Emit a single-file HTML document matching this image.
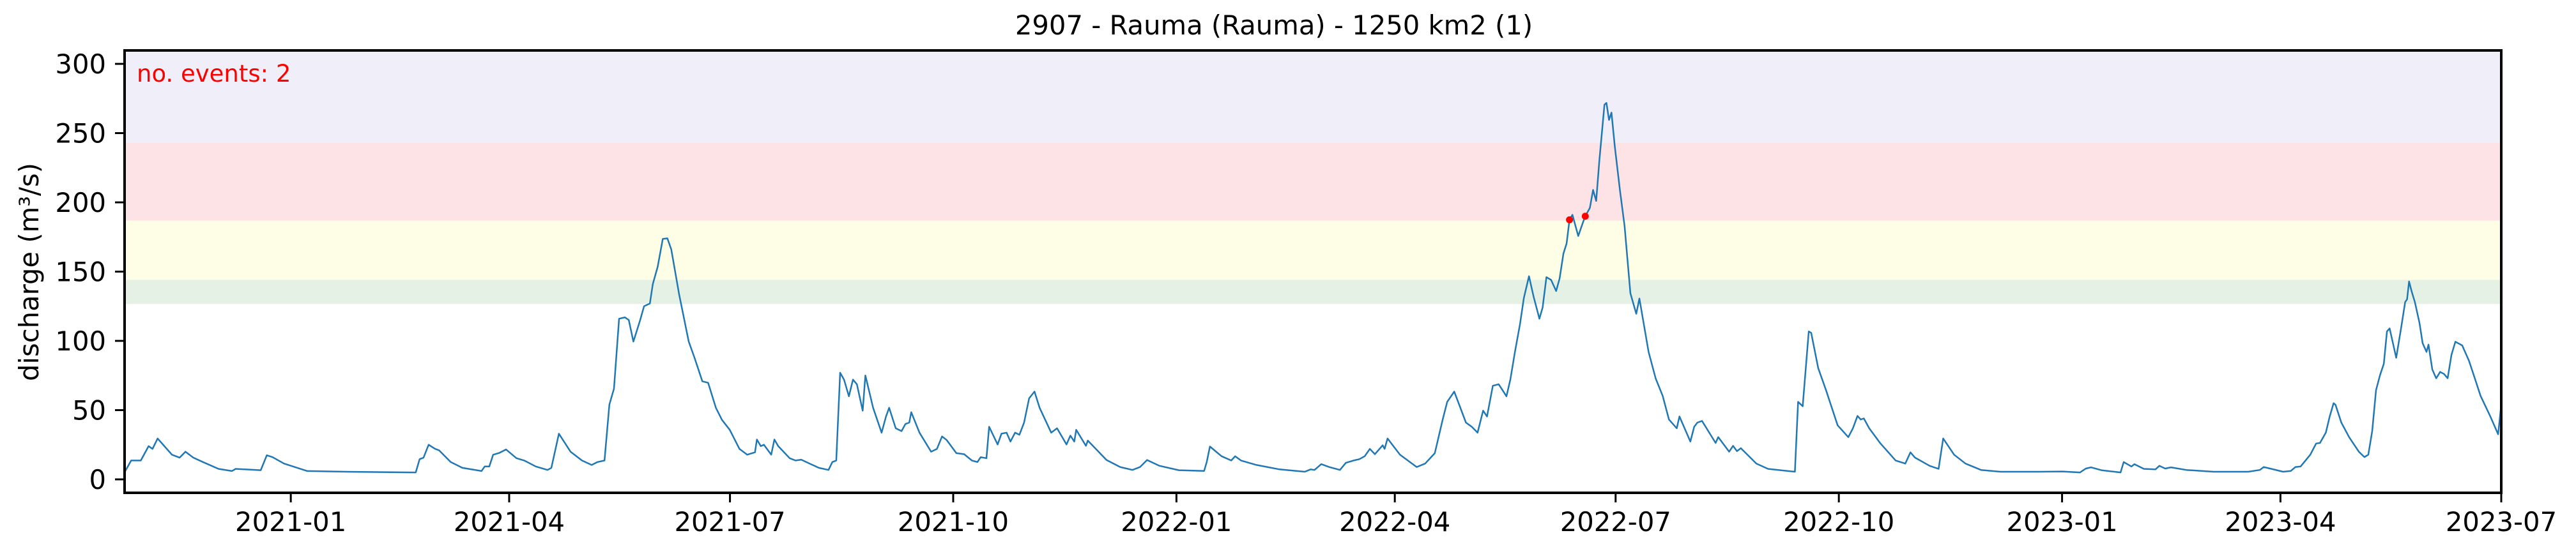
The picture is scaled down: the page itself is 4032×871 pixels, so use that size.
<!DOCTYPE html>
<html>
<head>
<meta charset="utf-8">
<style>
  html,body{margin:0;padding:0;background:#fff;}
  svg{display:block;}
  text{font-family:"DejaVu Sans","Liberation Sans",sans-serif;}
</style>
</head>
<body>
<svg id="chart" width="4032" height="871" viewBox="0 0 4032 871" xmlns="http://www.w3.org/2000/svg">
  <rect x="0" y="0" width="4032" height="871" fill="#ffffff"/>
  <g id="bands"></g>
  <g id="series"></g>
  <g id="events"></g>
  <rect x="195" y="79" width="3720" height="693" fill="none" stroke="#000" stroke-width="4"/>
  <g id="xaxis"></g>
  <g id="yaxis"></g>
  <text x="1994" y="54" font-size="41.7" text-anchor="middle" fill="#000">2907 - Rauma (Rauma) - 1250 km2 (1)</text>
  <text x="0" y="0" font-size="41.7" text-anchor="middle" fill="#000" transform="translate(60,426) rotate(-90)">discharge (m³/s)</text>
  <text x="214" y="128" font-size="37" fill="#ff0000">no. events: 2</text>
</svg>
<script>
// days since 2021-01-01
const days = [-68.2,-65.8,-61.8,-58.6,-57,-54.9,-49,-45.8,-43.4,-40.2,-36.2,-29.8,-24.3,-22.7,-12.4,-9.9,-7.5,-2.8,6.8,22.8,51.5,53.1,54.7,56.8,59.5,61.1,65.9,70.7,78.6,79.9,81.8,83.4,85.8,88.7,93,96.2,101,105.8,107.4,110.5,115.3,120,124,126.4,129.3,131.3,133.2,135.3,137.7,139.3,141.2,144,145.6,148,149.2,151.2,153.3,155.2,156.8,160,164,166.4,169.6,172,175.2,177.7,180.9,184.9,188.1,191.3,192.1,193.7,195,198,199.3,200.9,205.6,208,210.4,217.6,221.6,223.2,224.8,226.4,228,230,231.7,233.3,235.7,236.8,240,243.5,245.3,246.6,249.3,251.7,253.3,254.9,255.7,259.1,263.9,266.3,268.4,270.3,274.3,277.5,280.7,283,284.3,286.7,287.8,291.3,292.9,295,296.6,298.5,300.3,302.2,304.3,306.5,308.6,313.4,315.8,319.7,321.3,322.9,323.7,327.7,328.5,336.2,341.8,346.9,350,352.9,358,366,376.4,377.5,378.8,383.6,387.6,389.2,391.6,398,407.5,417.9,420.3,421.9,424.7,427.9,432.4,434.8,438,440.4,442.6,444.7,446.8,450,450.8,452,457.1,464,467.5,471.5,474.7,476.6,479.5,484.3,486.7,489.1,491.4,493,495.4,497.8,499.4,501,502.6,504.5,506.6,508.2,510.3,512.2,514.6,515.9,517.5,519.4,521.5,522.9,524.5,525.8,527,528.2,530.6,532.5,533.5,535.4,536.7,538,539.3,541.4,542.2,543.3,544.3,545.7,547.8,549.7,552.1,554.5,555.8,559.6,562.5,565.4,568,571.2,572.3,576.8,578.4,579.7,581.6,587.2,588.3,592.8,594.4,596,597.6,604,608.8,619.9,621.2,623.1,625.6,626.6,629.5,632.7,637.5,641.9,643.8,645.7,647,648.3,650.5,655,661.4,665.4,667.5,669.4,675.4,679.1,681,685.5,690.2,696.6,704.6,720.6,730.2,737.4,739.8,741.9,746.2,754.1,755.4,758.6,759.8,763.7,768.5,770.1,772.5,774.9,781.2,792.4,806.7,811.5,813.1,821.1,824.3,826.2,828.3,832.3,834.7,836.3,838.7,840.3,841.9,842.7,845.1,848.3,852.3,854.6,856.2,857.8,859.4,861,862.6,863.9,865,867.7,869.8,871.4,872.2,873,874.1,875.4,877.3,878.6,880.2,881,882.6,884.2,885.8,887.4,888.9,890.5,892.1,894.9,897.7,900.1,902.5,906.5,909.7,911];
const discharge = [6,13.6,13.6,24,22,29.5,17.8,15.7,20,15.7,12.5,7.6,6,7.6,6.6,17.4,16,11.4,6,5.5,5,14.6,15.7,25,22,21,12.5,8.3,6,9.3,9.3,17.8,19,21.6,15.3,13.6,9.3,6.8,8.3,33,20,13.6,10.4,12.5,13.6,54,65.5,116,117,115,99.5,115,125,127,141,153.5,173.6,174,166,134,99.5,87.8,70.8,69.7,51.7,43,35.8,22,17.8,19.5,28.8,24,25,17.8,28.8,24,15.3,13.6,14.2,8.3,6.8,12.5,13.6,77,72,60,72,68.7,49.6,75,51.7,33.7,45.4,51.7,36.9,34.8,40,41,48.5,33.7,20,22,31,28.4,18.9,18.2,13.6,12.5,16,15.3,38,25.2,33,33.7,27.3,33.7,32.2,41,58.5,63.4,51.7,33.7,36.9,25.2,31.6,27.3,35.8,24.2,28,14,8.9,6.8,8.9,14,9.8,6.6,6.1,12.5,23.7,16.7,13.6,16.7,13.6,10.4,7.2,5.5,7.2,6.8,11,8.9,6.8,11.9,13.6,14.6,16.7,22,18.2,24.6,22,29.5,17.8,8.9,11.4,18.9,43,56,63.4,41,38,33.7,49.6,45.4,67.6,68.7,64.4,60,72,92,112,131,146.7,132,116,124,146,144,136,145,163,170.4,187.4,191,175.7,185.3,190,196,209,201,230,270.5,271.8,259.5,264.8,240,208.6,183,134.4,119.6,130.6,92,73,60.2,43.2,36.9,45.4,27.3,38,41,42.2,26.3,30.5,20,24.2,20.4,22.5,11.4,7.6,5.5,56,52.8,106.8,105.8,80.3,64.4,39,30.5,36.9,45.8,43.2,44,36.9,26.3,13.6,11.4,19.5,15.7,9.8,7.6,29.5,17.8,11.4,6.8,5.5,5.5,5.7,5,7.8,8.7,6.6,5,12.5,9.3,11,7.6,7.2,9.8,7.8,8.7,6.8,5.5,5.5,6.8,8.9,5.5,6.1,8.9,9.3,17.8,25.9,26.3,33.7,45.4,55,53.8,41,30.5,20,16.1,17.8,34.8,64.4,75,83.5,106.8,109,87.8,110,128,130,142.9,135.5,128,113,98.4,92,97.3,79.3,73,77.6,76.1,73,90,99.4,96.7,85.6,73,60.2,45.4,32.6,53.8];
const eventDays = [527, 533.5];
const eventValues = [187.4, 190];
const bandLows = [243, 186.8, 144, 126.6];
const bandHighs = [310, 243, 186.8, 144];
const bandColors = ['#f0eef8','#fde3e5','#fefee6','#e5f1e5'];
const xTickDays = [0, 90, 181, 273, 365, 455, 546, 638, 730, 820, 911];
const xTickLabels = ['2021-01','2021-04','2021-07','2021-10','2022-01','2022-04','2022-07','2022-10','2023-01','2023-04','2023-07'];
const yTickValues = [0, 50, 100, 150, 200, 250, 300];
const yTickLabels = ['0','50','100','150','200','250','300'];

const X0 = 195, X1 = 3915, Y0 = 79, Y1 = 772;
const dMin = -68.5, dMax = 911;
const vMin = -9.7, vMax = 309.7;
function xs(d){ return X0 + (d - dMin) / (dMax - dMin) * (X1 - X0); }
function ys(v){ return Y1 - (v - vMin) / (vMax - vMin) * (Y1 - Y0); }
const NS = 'http://www.w3.org/2000/svg';

const bands = document.getElementById('bands');
for (let i = 0; i < bandLows.length; i++) {
  const r = document.createElementNS(NS, 'rect');
  
  
  const top = Math.max(Y0, ys(bandHighs[i]));
  r.setAttribute('x', X0); r.setAttribute('width', X1 - X0);
  r.setAttribute('y', top); r.setAttribute('height', ys(bandLows[i]) - top);
  r.setAttribute('fill', bandColors[i]);
  bands.appendChild(r);
}

const series = document.getElementById('series');
let dstr = '';
for (let i = 0; i < days.length; i++) {
  dstr += (i ? 'L' : 'M') + xs(days[i]).toFixed(1) + ',' + ys(discharge[i]).toFixed(1);
}
const path = document.createElementNS(NS, 'path');


path.setAttribute('d', dstr);
path.setAttribute('fill', 'none');
path.setAttribute('stroke', '#1f77b4');
path.setAttribute('stroke-width', '2.5');
path.setAttribute('stroke-linejoin', 'round');
series.appendChild(path);

const events = document.getElementById('events');
for (let i = 0; i < eventDays.length; i++) {
  const c = document.createElementNS(NS, 'circle');
  
  
  c.setAttribute('cx', xs(eventDays[i])); c.setAttribute('cy', ys(eventValues[i]));
  c.setAttribute('r', 5.5); c.setAttribute('fill', '#ff0000');
  events.appendChild(c);
}

const xaxis = document.getElementById('xaxis');
for (let i = 0; i < xTickDays.length; i++) {
  const x = xs(xTickDays[i]);
  const l = document.createElementNS(NS, 'line');
  
  
  l.setAttribute('x1', x); l.setAttribute('x2', x); l.setAttribute('y1', Y1); l.setAttribute('y2', Y1 + 15);
  l.setAttribute('stroke', '#000'); l.setAttribute('stroke-width', '3');
  xaxis.appendChild(l);
  const t = document.createElementNS(NS, 'text');
  
  
  t.setAttribute('x', x); t.setAttribute('y', 832);
  t.setAttribute('font-size', '41.7'); t.setAttribute('text-anchor', 'middle');
  t.textContent = xTickLabels[i];
  xaxis.appendChild(t);
}

const yaxis = document.getElementById('yaxis');
for (let i = 0; i < yTickValues.length; i++) {
  const y = ys(yTickValues[i]);
  const l = document.createElementNS(NS, 'line');
  
  
  l.setAttribute('x1', X0 - 15); l.setAttribute('x2', X0); l.setAttribute('y1', y); l.setAttribute('y2', y);
  l.setAttribute('stroke', '#000'); l.setAttribute('stroke-width', '3');
  yaxis.appendChild(l);
  const t = document.createElementNS(NS, 'text');
  
  
  t.setAttribute('x', 166); t.setAttribute('y', y + 15);
  t.setAttribute('font-size', '41.7'); t.setAttribute('text-anchor', 'end');
  t.textContent = yTickLabels[i];
  yaxis.appendChild(t);
}
</script>
</body>
</html>
